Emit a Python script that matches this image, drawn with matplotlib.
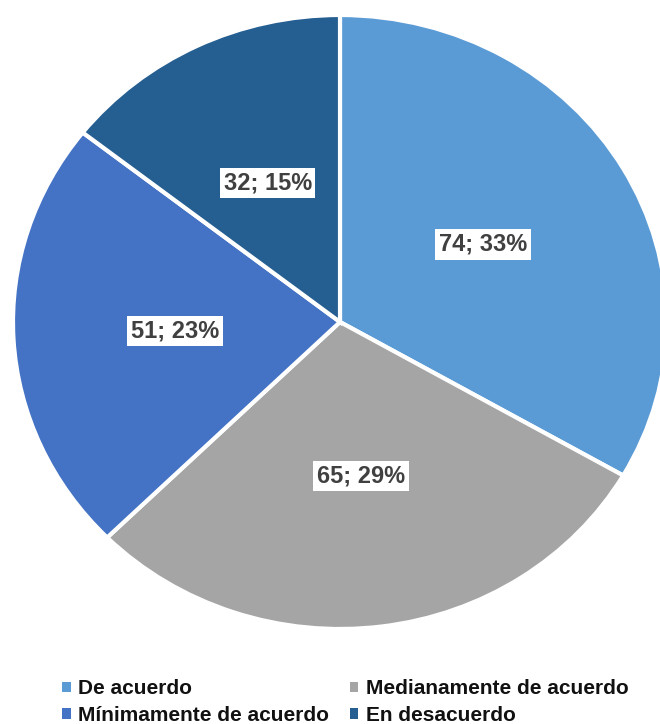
import matplotlib.pyplot as plt
from matplotlib.patches import Patch

plt.rcParams['font.family'] = ['Liberation Sans', 'DejaVu Sans']

categorias = ['De acuerdo', 'Medianamente de acuerdo', 'Mínimamente de acuerdo', 'En desacuerdo']
valores = [74, 65, 51, 32]
porcentajes = [33, 29, 23, 15]
colores = ['#5B9BD5', '#A5A5A5', '#4472C4', '#255E91']

fig = plt.figure(figsize=(6.6, 7.24), dpi=100)
ax = fig.add_axes([0, 0, 1, 1])

wedges, textos, autotextos = ax.pie(
    valores, colors=colores, startangle=90, counterclock=False,
    autopct='%d', pctdistance=0.505,
    wedgeprops=dict(edgecolor='white', linewidth=3),
)
for t, v, p in zip(autotextos, valores, porcentajes):
    t.set_text(f'{v}; {p}%')
    t.set_fontsize(17)
    t.set_fontweight('bold')
    t.set_color('#404040')
    t.set_bbox(dict(facecolor='white', edgecolor='none', pad=2.5))

# pie slightly wider than tall, as in the reference
ax.set_aspect('auto')
ax.set_xlim(-340 / 327, 320 / 327)
ax.set_ylim(-402 / 307, 322 / 307)
ax.axis('off')

orden = [0, 2, 1, 3]
handles = [Patch(facecolor=colores[i], edgecolor='none') for i in orden]
fig.legend(handles, [categorias[i] for i in orden], ncol=2, frameon=False,
           loc='upper left', bbox_to_anchor=(52 / 660, 1 - 669 / 724),
           borderpad=0, prop=dict(weight='bold', size=15),
           handlelength=0.4, handleheight=0.4, handletextpad=0.35,
           columnspacing=1.0, labelspacing=0.35, labelcolor='#111111')

fig.savefig('out.png', dpi=100)
